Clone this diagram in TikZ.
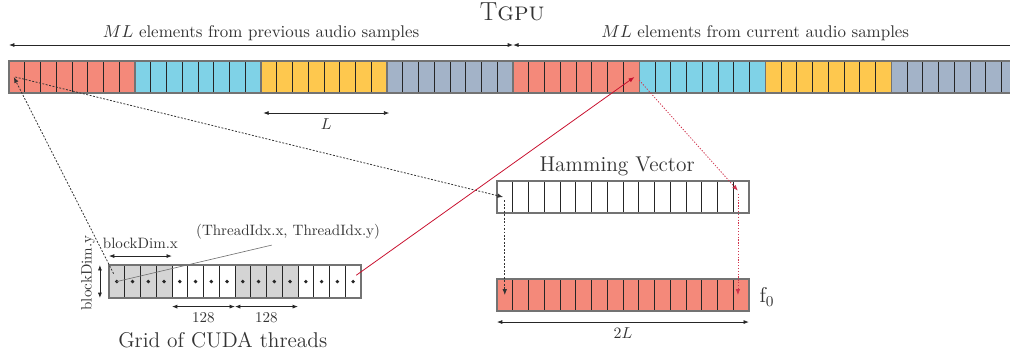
\documentclass[tikz,border=0pt]{standalone}
\usepackage{amsmath}
\usepackage{tikz}
\usetikzlibrary{arrows.meta,positioning}
\definecolor{cred}{HTML}{F4897A}
\definecolor{cblue}{HTML}{7FD2E7}
\definecolor{cyellow}{HTML}{FEC84E}
\definecolor{cgray}{HTML}{A3B3C8}
\definecolor{cthr}{HTML}{D4D4D4}
\definecolor{cline}{HTML}{C8102E}
\tikzset{
  cell/.style={draw=black!85, line width=0.5pt, minimum width=0.35cm,
               minimum height=0.71cm, inner sep=0pt, outer sep=0pt},
  grp/.style={draw=black!55, line width=0.8pt},
  dim/.style={{Latex[length=1.2mm,width=0.9mm]}-{Latex[length=1.2mm,width=0.9mm]},
              line width=0.5pt, black!85},
  ptr/.style={-{Latex[length=1.3mm,width=1mm]}, line width=0.5pt,
              dash pattern=on 1.2pt off 1pt, black!80},
  rptr/.style={-{Latex[length=1.3mm,width=1mm]}, line width=0.5pt,
               dash pattern=on 0.8pt off 1pt, cline!85},
  title/.style={font=\fontsize{13.5}{16}\selectfont, text=black!80},
  lab/.style={font=\fontsize{9.5}{11}\selectfont, text=black!80},
}

\begin{document}
\begin{tikzpicture}
\useasboundingbox (0,0) rectangle (22.44,7.844);
% T_GPU buffer
\foreach \g/\c in {0/cred,1/cblue,2/cyellow,3/cgray,4/cred,5/cblue,6/cyellow,7/cgray} {
  \foreach \k in {0,...,7} {
    \pgfmathtruncatemacro\i{8*\g+\k}
    \node[cell, fill=\c, anchor=south west] (t\i) at (0.2+0.35*\i, 5.778) {};
  }
  \pgfmathtruncatemacro\a{8*\g}
  \pgfmathtruncatemacro\b{8*\g+7}
  \draw[grp] (t\a.north west) rectangle (t\b.south east);
}
\node[title, font=\fontsize{16.5}{19}\selectfont] (tgpu) at (11.38,7.58) {T\textsc{gpu}};
\coordinate (ml0) at (0.2,6.844);
\coordinate (ml1) at (11.4,6.844);
\coordinate (ml2) at (22.6,6.844);
\draw[dim] (ml0) -- (ml1);
\draw[dim] (ml1) -- (ml2);
\node[lab, font=\fontsize{10.7}{13}\selectfont] (prev) at (5.8,7.11)
  {$ML$ elements from previous audio samples};
\node[lab, font=\fontsize{10.7}{13}\selectfont] (curr) at (16.78,7.11)
  {$ML$ elements from current audio samples};
\coordinate (l0) at (5.85,5.333);
\coordinate (l1) at (8.65,5.333);
\draw[dim] (l0) -- (l1) node[lab, font=\normalsize, midway, below=0pt] (llab) {$L$};

% Hamming vector and f0
\foreach \i in {0,...,15} {
  \node[cell, fill=white, anchor=south west] (h\i) at (11.04+0.35*\i, 3.111) {};
  \node[cell, fill=cred, anchor=south west] (f\i) at (11.04+0.35*\i, 0.933) {};
}
\draw[grp] (h0.north west) rectangle (h15.south east);
\draw[grp] (f0.north west) rectangle (f15.south east);
\node[title] (ham) at (13.71,4.155) {Hamming Vector};
\node[title] (flab) at (17.04,1.244) {f\textsubscript{0}};
\draw[dim] ([yshift=-0.244cm]f0.south west) -- ([yshift=-0.244cm]f15.south east)
  node[lab, font=\normalsize, midway, below=0pt] (twol) {$2L$};

% grid of CUDA threads
\foreach \i in {0,...,15} {
  \pgfmathtruncatemacro\blk{mod(floor(\i/4),2)}
  \ifnum\blk=0 \def\c{cthr}\else\def\c{white}\fi
  \node[cell, fill=\c, minimum height=0.733cm, anchor=south west] (g\i) at (2.42+0.35*\i, 1.222) {};
  \fill[black!85] (g\i.center) circle (1.2pt);
}
\draw[grp] (g0.north west) rectangle (g15.south east);
\draw[dim] ([yshift=0.2cm]g0.north west) -- ([yshift=0.2cm]g3.north east)
  node[lab, midway, above=1pt] (bdx) {blockDim.x};
\draw[dim] ([xshift=-0.2cm]g0.north west) -- ([xshift=-0.2cm]g0.south west);
\node[lab, rotate=90] (bdy) at (1.955,1.778) {blockDim.y};
\draw[dim] ([yshift=-0.19cm]g4.south west) -- ([yshift=-0.19cm]g7.south east)
  node[lab, midway, below=0pt] (n128a) {128};
\draw[dim] ([yshift=-0.19cm]g8.south west) -- ([yshift=-0.19cm]g11.south east)
  node[lab, midway, below=0pt] (n128b) {128};
\node[title] (grid) at (4.95,0.289) {Grid of CUDA threads};
\node[lab] (tid) at (6.4,2.69) {(ThreadIdx.x, ThreadIdx.y)};
\draw[black!55, line width=0.4pt] (g0.center) -- ([xshift=-0.36cm]tid.south);

% pointers
\draw[ptr] ([shift={(-2pt,5pt)}]g0.center) -- ([xshift=3pt]t0.west);
\draw[ptr] ([xshift=4pt]t0.west) -- ([xshift=-1pt]h0.center);
\draw[ptr] ([yshift=-2pt]h0.center) -- (f0.center);
\draw[-{Latex[length=1.3mm,width=1mm]}, line width=0.5pt, cline]
  ([shift={(2pt,4pt)}]g15.center) -- ([xshift=2pt]t39.center);
\draw[rptr] ([shift={(5pt,-2pt)}]t39.center) -- ([shift={(-2pt,4pt)}]h15.center);
\draw[rptr] ([shift={(-2pt,2pt)}]h15.center) -- ([xshift=-2pt]f15.center);
\end{tikzpicture}
\end{document}
